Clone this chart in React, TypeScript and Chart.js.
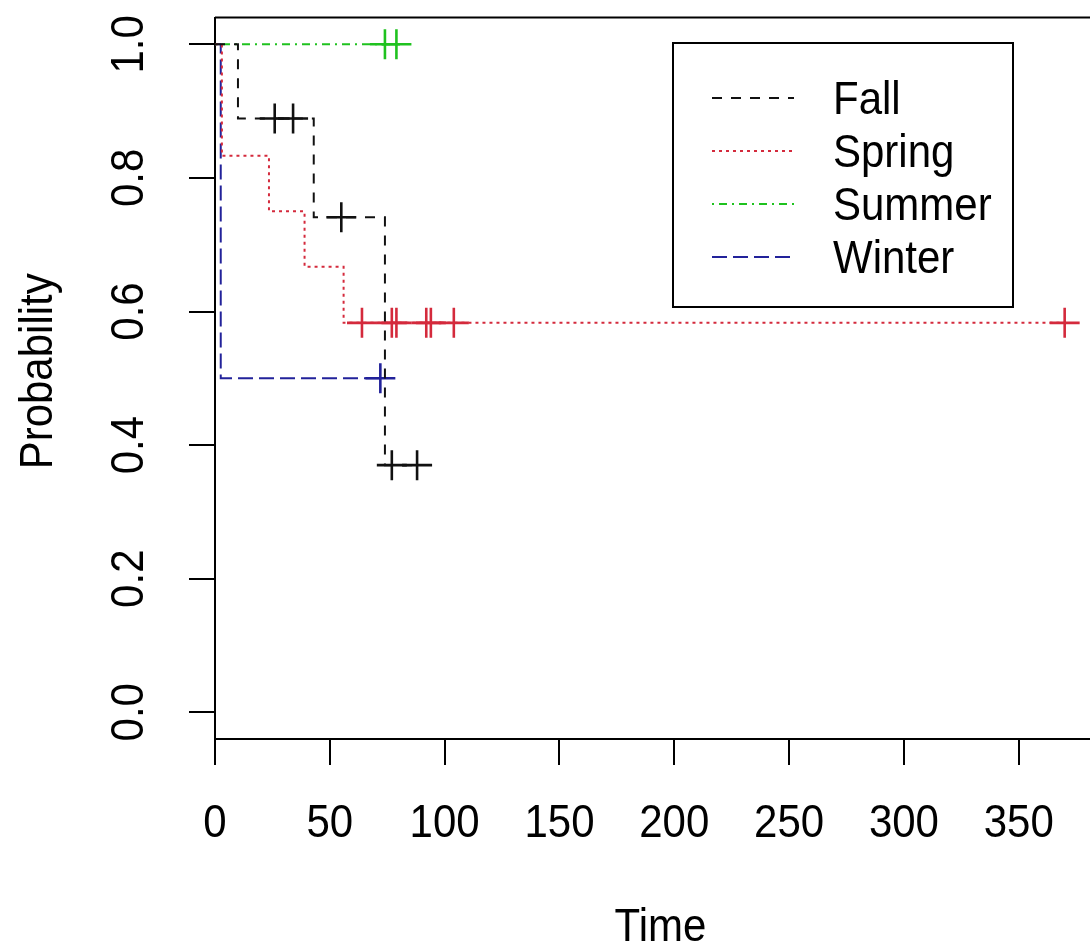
import React, { useEffect, useRef } from "react";
import { Chart, registerables } from "chart.js";

Chart.register(...registerables);

// ---- data ----
const groups = ["Fall", "Spring", "Summer", "Winter"];

const fallTimes = [0, 10, 43, 74];
const fallSurv = [1, 0.889, 0.741, 0.37];
const fallCensor = [26, 34, 55, 77, 88];

const springTimes = [0, 3, 23.5, 39, 56];
const springSurv = [1, 0.833, 0.75, 0.667, 0.583];
const springCensor = [64, 77, 79, 92, 94, 104, 370];

const summerTimes = [0];
const summerSurv = [1];
const summerCensor = [74, 79];

const winterTimes = [0, 2.5];
const winterSurv = [1, 0.5];
const winterCensor = [72];

const xTicks = [0, 50, 100, 150, 200, 250, 300, 350];
const xTickLabels = ["0", "50", "100", "150", "200", "250", "300", "350"];
const yTicks = [0, 0.2, 0.4, 0.6, 0.8, 1.0];
const yTickLabels = ["0.0", "0.2", "0.4", "0.6", "0.8", "1.0"];

const xTitle = "Time";
const yTitle = "Probability";

// ---- styles ----
const colors = ["#111111", "#d42a3c", "#1fc21f", "#22229a"];
const dashes = [
  [10, 9],
  [3, 4],
  [2, 5, 8, 5],
  [15, 6],
];
const FONT = '"Liberation Sans", Arial, Helvetica, sans-serif';
const FS = 42;
const STRETCH = 1.1;

function survAt(times: number[], surv: number[], t: number) {
  let v = surv[0];
  for (let i = 0; i < times.length; i++) if (times[i] <= t) v = surv[i];
  return v;
}

function lineData(times: number[], surv: number[], censor: number[]) {
  const all = Array.from(new Set([...times, ...censor])).sort((a, b) => a - b);
  return all.map((t) => ({ x: t, y: survAt(times, surv, t) }));
}

function censorData(times: number[], surv: number[], censor: number[]) {
  return censor.map((t) => ({ x: t, y: survAt(times, surv, t) }));
}

const series = [
  [fallTimes, fallSurv, fallCensor],
  [springTimes, springSurv, springCensor],
  [summerTimes, summerSurv, summerCensor],
  [winterTimes, winterSurv, winterCensor],
];

function txt(ctx: any, s: string, x: number, y: number, align: string, rot: number) {
  ctx.save();
  ctx.translate(x, y);
  if (rot) ctx.rotate(rot);
  ctx.scale(1, STRETCH);
  ctx.textAlign = align;
  ctx.textBaseline = "alphabetic";
  ctx.fillText(s, 0, 0);
  ctx.restore();
}

const overlay = {
  id: "rOverlay",
  afterDraw(chart: any) {
    const ctx = chart.ctx;
    const area = chart.chartArea;
    const xs = chart.scales.x;
    const ys = chart.scales.y;
    ctx.save();
    // box top / right
    ctx.strokeStyle = "#000";
    ctx.lineWidth = 2;
    ctx.beginPath();
    ctx.moveTo(area.left, area.top);
    ctx.lineTo(area.right, area.top);
    ctx.lineTo(area.right, area.bottom);
    ctx.stroke();

    ctx.fillStyle = "#000";
    ctx.font = `${FS}px ${FONT}`;
    // x tick labels
    xTicks.forEach((v, i) => {
      txt(ctx, xTickLabels[i], xs.getPixelForValue(v), 837, "center", 0);
    });
    // x title
    txt(ctx, xTitle, (area.left + area.right) / 2, 941, "center", 0);
    // y tick labels rotated
    yTicks.forEach((v, i) => {
      txt(ctx, yTickLabels[i], 143, ys.getPixelForValue(v), "center", -Math.PI / 2);
    });
    // y title
    txt(ctx, yTitle, 52, (area.top + area.bottom) / 2 - 7, "center", -Math.PI / 2);

    // legend
    const lx = 673, ly = 43, lw = 340, lh = 264;
    ctx.fillStyle = "#fff";
    ctx.fillRect(lx, ly, lw, lh);
    ctx.strokeStyle = "#000";
    ctx.lineWidth = 2;
    ctx.strokeRect(lx, ly, lw, lh);
    groups.forEach((g, i) => {
      const cy = 98 + i * 53;
      ctx.strokeStyle = colors[i];
      ctx.lineWidth = 2;
      ctx.setLineDash(dashes[i]);
      ctx.beginPath();
      ctx.moveTo(712, cy);
      ctx.lineTo(794, cy);
      ctx.stroke();
      ctx.setLineDash([]);
      ctx.fillStyle = "#000";
      txt(ctx, g, 833, cy + 16, "left", 0);
    });
    ctx.restore();
  },
};

export default function App() {
  const ref = useRef<HTMLCanvasElement | null>(null);
  useEffect(() => {
    if (!ref.current) return;
    const datasets: any[] = [];
    series.forEach((s, i) => {
      const [t, v, c] = s as number[][];
      datasets.push({
        type: "line",
        label: groups[i],
        data: lineData(t, v, c),
        borderColor: colors[i],
        borderWidth: 2,
        borderDash: dashes[i],
        stepped: "before",
        pointRadius: 0,
        fill: false,
      });
    });
    series.forEach((s, i) => {
      const [t, v, c] = s as number[][];
      datasets.push({
        type: "line",
        label: groups[i] + " censored",
        data: censorData(t, v, c),
        showLine: false,
        borderColor: colors[i],
        backgroundColor: colors[i],
        pointStyle: "cross",
        pointRadius: 15,
        pointBorderWidth: 2.6,
        pointBorderColor: colors[i],
      });
    });
    const chart = new Chart(ref.current, {
      type: "line",
      data: { datasets },
      options: {
        animation: false,
        responsive: false,
        devicePixelRatio: 1,
        events: [],
        layout: { padding: { left: 0, top: 15, right: 94, bottom: 0 } },
        plugins: { legend: { display: false }, tooltip: { enabled: false } },
        scales: {
          x: {
            type: "linear",
            min: 0,
            max: 388,
            afterBuildTicks: (scale: any) => {
              scale.ticks = xTicks.map((v) => ({ value: v }));
            },
            afterFit: (scale: any) => {
              scale.height = 211;
            },
            ticks: { display: false },
            grid: {
              drawOnChartArea: false,
              drawTicks: true,
              tickLength: 26,
              color: "#000",
              lineWidth: 2,
            },
            border: { display: true, color: "#000", width: 2 },
          },
          y: {
            type: "linear",
            min: -0.04,
            max: 1.04,
            afterBuildTicks: (scale: any) => {
              scale.ticks = yTicks.map((v) => ({ value: v }));
            },
            afterFit: (scale: any) => {
              scale.width = 215;
            },
            ticks: { display: false },
            grid: {
              drawOnChartArea: false,
              drawTicks: true,
              tickLength: 26,
              color: "#000",
              lineWidth: 2,
            },
            border: { display: true, color: "#000", width: 2 },
          },
        },
      },
      plugins: [overlay],
    });
    return () => chart.destroy();
  }, []);
  return (
    <div
      style={{
        position: "fixed",
        left: 0,
        top: 0,
        width: 1090,
        height: 950,
        overflow: "hidden",
        background: "#fff",
      }}
    >
      <canvas ref={ref} width={1200} height={950} style={{ display: "block" }} />
    </div>
  );
}
